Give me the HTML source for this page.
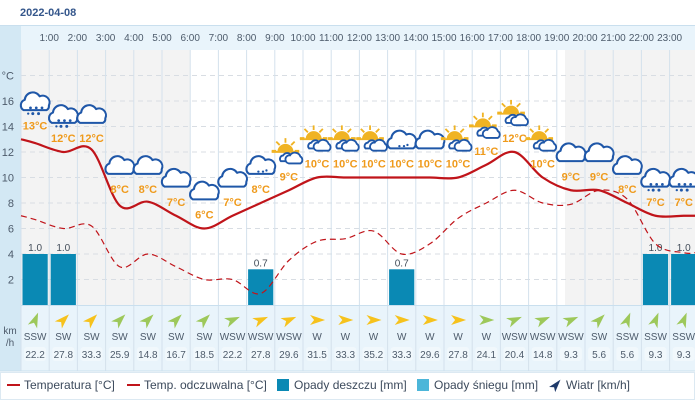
<!DOCTYPE html>
<html><head><meta charset="utf-8"><style>
html,body{margin:0;padding:0;background:#fff;width:695px;height:408px;overflow:hidden}
svg text{font-family:"Liberation Sans",sans-serif}
</style></head><body>
<svg id="s" width="695" height="408" xmlns="http://www.w3.org/2000/svg">
<defs>
<g id="cloud"><path d="M-10,6 A5,5 0 0 1 -9,-3 A7,7 0 0 1 4,-6 A6,6 0 0 1 12,2 A4,4 0 0 1 10,6 Z" fill="#fff" stroke="#1f57a8" stroke-width="1.8" stroke-linejoin="round"/></g>
<g id="rain"><use href="#cloud"/><g fill="#1f57a8"><circle cx="-4" cy="4" r="1.2"/><circle cx="1" cy="4" r="1.2"/><circle cx="6" cy="4" r="1.2"/><circle cx="-2" cy="9" r="1.3"/><circle cx="3" cy="9" r="1.3"/><circle cx="-6" cy="9" r="1"/></g></g>
<g id="driz"><use href="#cloud"/><g fill="#1f57a8"><circle cx="-2" cy="4" r="1"/><circle cx="2" cy="4" r="1"/><circle cx="5" cy="3" r="1"/></g></g>
<g id="sun"><g stroke="#f0b323" stroke-width="1.6"><line x1="-3" y1="-14" x2="-3" y2="-10"/><line x1="-11" y1="-11" x2="-8" y2="-8"/><line x1="5" y1="-11" x2="2" y2="-8"/><line x1="-15" y1="-3" x2="-11" y2="-3"/><line x1="5" y1="-3" x2="9" y2="-3"/></g><path d="M-10,-2 A7,7 0 0 1 4,-2 Z" fill="#f0b323"/><line x1="-15" y1="-2" x2="9" y2="-2" stroke="#f0b323" stroke-width="1.6"/><path d="M-7,6 A3,3 0 0 1 -5,1 A4,4 0 0 1 2,1 A3,3 0 0 1 2,6 Z" fill="#fff" stroke="#1f57a8" stroke-width="1.6"/><path d="M0,8 A3.5,3.5 0 0 1 1,1 A5,5 0 0 1 10,2 A3.5,3.5 0 0 1 10,8 Z" fill="#fff" stroke="#1f57a8" stroke-width="1.6"/></g>
</defs>
</svg>
<script>
const s=document.getElementById('s');
let h='';
const X0=21,W=28.2,Y=t=>305-12.75*t;
h+='<text x="20" y="16" font-size="11" font-weight="bold" fill="#34568b">2022-04-08</text>';
h+='<rect x="0" y="25" width="695" height="346" fill="#e9f4fb"/>';
h+='<rect x="0" y="25" width="21" height="346" fill="#d3e8f4"/>';
h+='<rect x="21" y="50" width="674" height="255" fill="#fff"/>';
h+='<rect x="21" y="50" width="169" height="255" fill="#f3f3f3"/>';
h+='<rect x="565" y="50" width="130" height="255" fill="#f3f3f3"/>';
h+='<line x1="0" y1="25.5" x2="695" y2="25.5" stroke="#c9dfee"/>';
for(let t=2;t<=18;t+=2){h+=`<line x1="21" y1="${Y(t)}" x2="695" y2="${Y(t)}" stroke="#d8dde3" stroke-dasharray="5,4"/>`;
 if(t<=16)h+=`<text x="14" y="${Y(t)+4}" font-size="11" fill="#4d5b6b" text-anchor="end">${t}</text>`;}
h+=`<text x="14" y="${Y(18)+4}" font-size="11" fill="#4d5b6b" text-anchor="end">°C</text>`;
for(let i=0;i<=24;i++){const x=X0+W*i;h+=`<line x1="${x}" y1="50" x2="${x}" y2="371" stroke="#d4e1ec"/>`;
 if(i>=1&&i<=23)h+=`<text x="${x}" y="41" font-size="10" fill="#4d5b6b" text-anchor="middle">${i}:00</text>`;}
h+='<line x1="21" y1="305.5" x2="695" y2="305.5" stroke="#c9dfee"/>';
[[0,1.0],[1,1.0],[8,0.7],[13,0.7],[22,1.0],[23,1.0]].forEach(([i,v])=>{const x=X0+W*i+1.5,y=Y(v*4);
 h+=`<rect x="${x}" y="${y}" width="${W-3}" height="${305-y}" fill="#0a89b4"/><text x="${X0+W*i+W/2}" y="${y-3}" font-size="10" fill="#444e5a" text-anchor="middle">${v.toFixed(1)}</text>`;});
function path(pts){let d=`M${pts[0][0]},${pts[0][1]}`;for(let i=0;i<pts.length-1;i++){const p0=pts[Math.max(0,i-1)],p1=pts[i],p2=pts[i+1],p3=pts[Math.min(pts.length-1,i+2)];
 d+=` C${p1[0]+(p2[0]-p0[0])/6},${p1[1]+(p2[1]-p0[1])/6} ${p2[0]-(p3[0]-p1[0])/6},${p2[1]-(p3[1]-p1[1])/6} ${p2[0]},${p2[1]}`;}return d;}
const T=[12.7,12,12.2,7.8,8.1,7,6,7,8,9,10,10,10,10,10,10,11,12,10,9,9,8,7,7];
const F=[6.7,6.0,6.2,3.0,4.0,3.0,2.0,2.0,0.9,3.5,5.0,5.2,5.8,4.0,4.8,6.8,8.0,9.0,8.0,7.9,9.0,8.3,4.8,4.1];
const mk=a=>{const p=[[21,Y(a[0]+0.3)]];a.forEach((v,i)=>p.push([X0+W*i+W/2,Y(v)]));p.push([695,Y(a[23])]);return p;};
h+=`<path d="${path(mk(F))}" fill="none" stroke="#c0141a" stroke-width="1.2" stroke-dasharray="6,4"/>`;
h+=`<path d="${path(mk(T))}" fill="none" stroke="#c0141a" stroke-width="2.2"/>`;
const LT=[13,12,12,8,8,7,6,7,8,9,10,10,10,10,10,10,11,12,10,9,9,8,7,7];
const IC=['rain','rain','cloud','cloud','cloud','cloud','cloud','cloud','driz','sun','sun','sun','sun','driz','cloud','sun','sun','sun','sun','cloud','cloud','cloud','rain','rain'];
LT.forEach((v,i)=>{const cx=X0+W*i+W/2,ly=Y(v)-14;
 h+=`<g transform="translate(${cx},${ly-22}) scale(1.15)"><use href="#${IC[i]}"/></g><text x="${cx}" y="${ly+4}" font-size="11" font-weight="bold" fill="#ef9a1b" text-anchor="middle">${v}°C</text>`;});
const WD=['SSW','SW','SW','SW','SW','SW','SW','WSW','WSW','WSW','W','W','W','W','W','W','W','WSW','WSW','WSW','SW','SSW','SSW','SSW'];
const WS=['22.2','27.8','33.3','25.9','14.8','16.7','18.5','22.2','27.8','29.6','31.5','33.3','35.2','33.3','29.6','27.8','24.1','20.4','14.8','9.3','5.6','5.6','9.3','9.3'];
const Y1=[1,2,8,9,10,11,12,13,14,15];
const ang={SSW:22,SW:45,WSW:67,W:90};
WD.forEach((d,i)=>{const cx=X0+W*i+W/2,col=Y1.includes(i)?'#f6c21c':'#9dc85a';
 h+=`<g transform="translate(${cx},320) rotate(${ang[d]})"><path d="M0,-8 L5,7 L0,3 L-5,7 Z" fill="${col}"/></g>`;
 h+=`<text x="${cx}" y="340" font-size="10" fill="#4d5b6b" text-anchor="middle">${d}</text>`;
 h+=`<rect x="${cx-11}" y="347" width="22" height="14" rx="3" fill="#f1f8fc"/><text x="${cx}" y="358" font-size="10" fill="#4d5b6b" text-anchor="middle">${WS[i]}</text>`;});
h+='<text x="10" y="334" font-size="10" fill="#4d5b6b" text-anchor="middle">km</text><text x="10" y="346" font-size="10" fill="#4d5b6b" text-anchor="middle">/h</text>';
h+='<line x1="0" y1="371" x2="695" y2="371" stroke="#c9dfee"/>';
h+='<rect x="0.5" y="372.5" width="694" height="27" fill="#fff" stroke="#dce9f2"/>';
const lg='font-size="12" fill="#3c4a5c"';
h+=`<line x1="7" y1="385" x2="20" y2="385" stroke="#c0141a" stroke-width="2"/><text x="24" y="389" ${lg}>Temperatura [°C]</text>`;
h+=`<line x1="127" y1="385" x2="140" y2="385" stroke="#c0141a" stroke-width="2"/><text x="144" y="389" ${lg}>Temp. odczuwalna [°C]</text>`;
h+=`<rect x="277" y="379" width="12" height="12" fill="#0a89b4"/><text x="294" y="389" ${lg}>Opady deszczu [mm]</text>`;
h+=`<rect x="417" y="379" width="12" height="12" fill="#4cb6d9"/><text x="434" y="389" ${lg}>Opady śniegu [mm]</text>`;
h+=`<g transform="translate(556,385) rotate(40)"><path d="M0,-7 L4,6 L0,3 L-4,6 Z" fill="#1f3a6a"/></g><text x="566" y="389" ${lg}>Wiatr [km/h]</text>`;
s.insertAdjacentHTML('beforeend',h);
</script>
</body></html>
